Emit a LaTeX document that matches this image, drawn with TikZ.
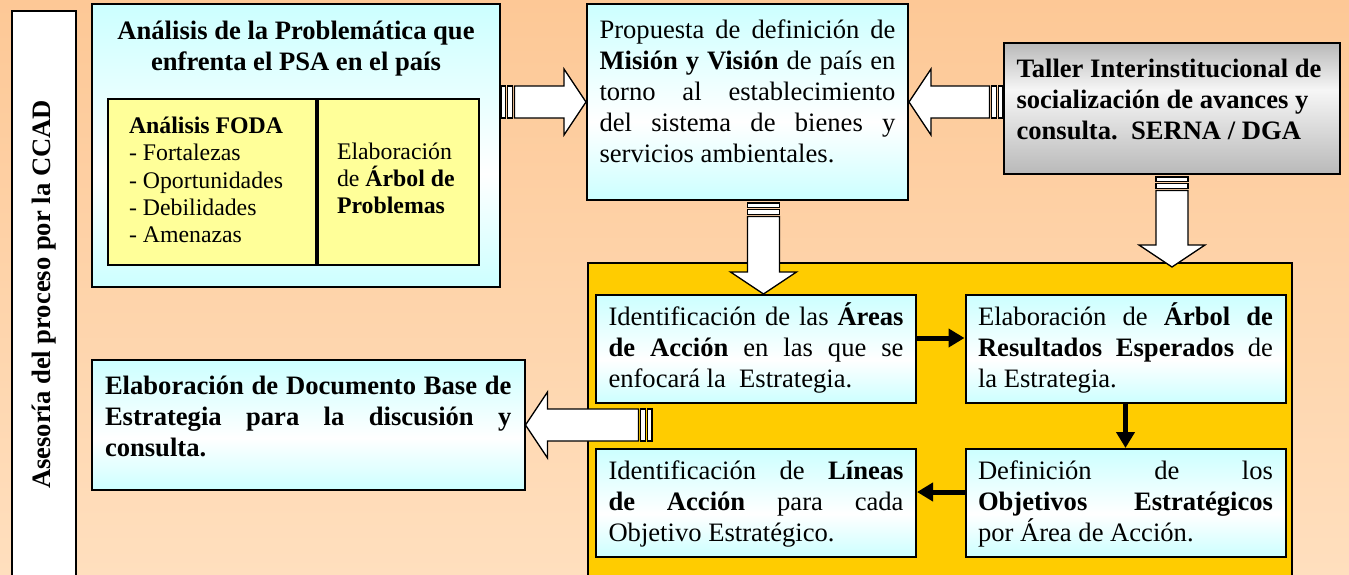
\documentclass[tikz,border=0pt]{standalone}
\usepackage{fontspec}
\setmainfont{Liberation Serif}
\usetikzlibrary{calc,positioning,arrows.meta}

\definecolor{peachtop}{RGB}{253,200,150}
\definecolor{peachbot}{RGB}{255,223,190}
\definecolor{cyanfill}{RGB}{204,255,255}
\definecolor{paleyellow}{RGB}{255,255,153}
\definecolor{goldfill}{RGB}{255,204,0}
\definecolor{grayedge}{RGB}{185,185,185}
\definecolor{graylight}{RGB}{246,246,246}

\pgfdeclareverticalshading{cyanband}{100bp}{color(0bp)=(cyanfill); color(25bp)=(cyanfill); color(45bp)=(white); color(75bp)=(cyanfill); color(100bp)=(cyanfill)}
\pgfdeclareverticalshading{grayband}{100bp}{color(0bp)=(grayedge); color(25bp)=(grayedge); color(57bp)=(graylight); color(75bp)=(grayedge); color(100bp)=(grayedge)}

\newcommand{\mainsize}{\fontsize{26.6pt}{31pt}\selectfont}
\newcommand{\fodasize}{\fontsize{23.8pt}{27.3pt}\selectfont}
\newcommand{\boxtext}[4]{\parbox[t][#1][t]{#2}{\rule{0pt}{#3}#4}}

\tikzstyle{panel}     = [draw=black, line width=2pt, anchor=north west, inner xsep=12.5pt, inner ysep=0pt, font=\mainsize]
\tikzstyle{cyanpanel} = [panel, shade, shading=cyanband]
\tikzstyle{hollow}    = [draw=black, fill=white, line width=1.3pt]

\newcommand{\blockarrow}[2]{%
  \path (#1); \pgfgetlastxy{\arax}{\aray}%
  \path (#2); \pgfgetlastxy{\arbx}{\arby}%
  \pgfmathsetmacro\arang{atan2(\arby-\aray,\arbx-\arax)}%
  \pgfmathsetmacro\arlen{veclen(\arbx-\arax,\arby-\aray)}%
  \begin{scope}[shift={(\arax,\aray)}, rotate=\arang, x=1pt, y=1pt]
    \draw[hollow] (0,-16) rectangle (4.5,16);
    \draw[hollow] (6.5,-16) rectangle (11.5,16);
    \draw[hollow] (13.5,-16) -- (\arlen-22,-16) -- (\arlen-22,-33) -- (\arlen,0)
      -- (\arlen-22,33) -- (\arlen-22,16) -- (13.5,16) -- cycle;
  \end{scope}}

\begin{document}
\begin{tikzpicture}[x=1pt, y=-1pt,
    flow/.style={line width=5pt, -{Triangle[length=16pt,width=18pt]}}]
  \useasboundingbox (0,0) rectangle (1349,575);
  \clip (0,0) rectangle (1349,575);
  \shade[top color=peachtop, bottom color=peachbot] (0,0) rectangle (1349,575);

  \node[draw=black, line width=2pt, fill=white, rotate=90, minimum width=567pt,
        minimum height=64pt, inner sep=0pt, font=\mainsize\bfseries] (asesoria) at (44,294.5)
        {Asesoría del proceso por la CCAD};

  \node[cyanpanel] (prob) at (91,3) {\boxtext{283pt}{383pt}{36pt}{\centering\bfseries
        Análisis de la Problemática que\\enfrenta el PSA en el país}};
  \node[panel, fill=paleyellow, inner xsep=21pt, font=\fodasize] (foda) at (107,98)
        {\boxtext{166pt}{166pt}{34.7pt}{\textbf{Análisis FODA}\\- Fortalezas\\- Oportunidades\\- Debilidades\\- Amenazas}};
  \node[panel, fill=paleyellow, inner xsep=19pt, font=\fodasize, right=0pt of foda] (arbol)
        {\boxtext{166pt}{123pt}{60pt}{Elaboración\\de \textbf{Árbol de}\\\textbf{Problemas}}};

  \node[cyanpanel] (mision) at (586,3) {\boxtext{196pt}{296pt}{35pt}{Propuesta de definición de\linebreak
        \textbf{Misión y Visión} de país en\linebreak
        torno al establecimiento\linebreak
        del sistema de bienes y\linebreak
        servicios ambientales.}};
  \node[panel, shade, shading=grayband] (taller) at (1003,42) {\boxtext{131pt}{311pt}{35pt}{\bfseries
        Taller Interinstitucional de\\socialización de avances y\\consulta.\ \ SERNA / DGA}};
  \node[cyanpanel, inner xsep=13pt] (documento) at (91,359) {\boxtext{130pt}{406.5pt}{34pt}{\bfseries
        Elaboración de Documento Base de\linebreak
        Estrategia para la discusión y\linebreak
        consulta.}};

  \node[panel, fill=goldfill, minimum width=704pt, minimum height=330pt] (fase) at (587,262) {};
  \node[cyanpanel] (areas) at (595,294) {\boxtext{108pt}{295pt}{30pt}{Identificación de las \textbf{Áreas}\linebreak
        \textbf{de Acción} en las que se\linebreak
        enfocará la\ \ Estrategia.}};
  \node[cyanpanel, right=47.5pt of areas] (result) {\boxtext{108pt}{295pt}{30pt}{Elaboración de \textbf{Árbol de}\linebreak
        \textbf{Resultados Esperados} de\linebreak
        la Estrategia.}};
  \node[cyanpanel, below=44pt of result] (objetivos) {\boxtext{108pt}{295pt}{30.7pt}{Definición de los\linebreak
        \textbf{Objetivos Estratégicos}\linebreak
        por Área de Acción.}};
  \node[cyanpanel, left=47.5pt of objetivos] (lineas) {\boxtext{108pt}{295pt}{30.7pt}{Identificación de \textbf{Líneas}\linebreak
        \textbf{de Acción} para cada\linebreak
        Objetivo Estratégico.}};

  \draw[flow] ([yshift=11pt]areas.east) -- ([yshift=11pt]result.west);
  \draw[flow] (result.south) -- (objetivos.north);
  \draw[flow] ([yshift=11pt]objetivos.west) -- ([yshift=11pt]lineas.east);

  \coordinate (misionout) at ($(mision.south)+(16,2)$);
  \coordinate (areasin) at (misionout |- areas.north);
  \coordinate (tallerout) at ($(taller.south)+(0,2)$);
  \coordinate (fasein) at ($(tallerout |- fase.north)+(0,5)$);
  \coordinate (faseout) at ($(documento.east -| fase.west)+(65,0)$);

  \blockarrow{prob.east |- mision.west}{mision.west}
  \blockarrow{taller.west |- mision.east}{mision.east}
  \blockarrow{misionout}{areasin}
  \blockarrow{tallerout}{fasein}
  \blockarrow{faseout}{documento.east}
\end{tikzpicture}
\end{document}
